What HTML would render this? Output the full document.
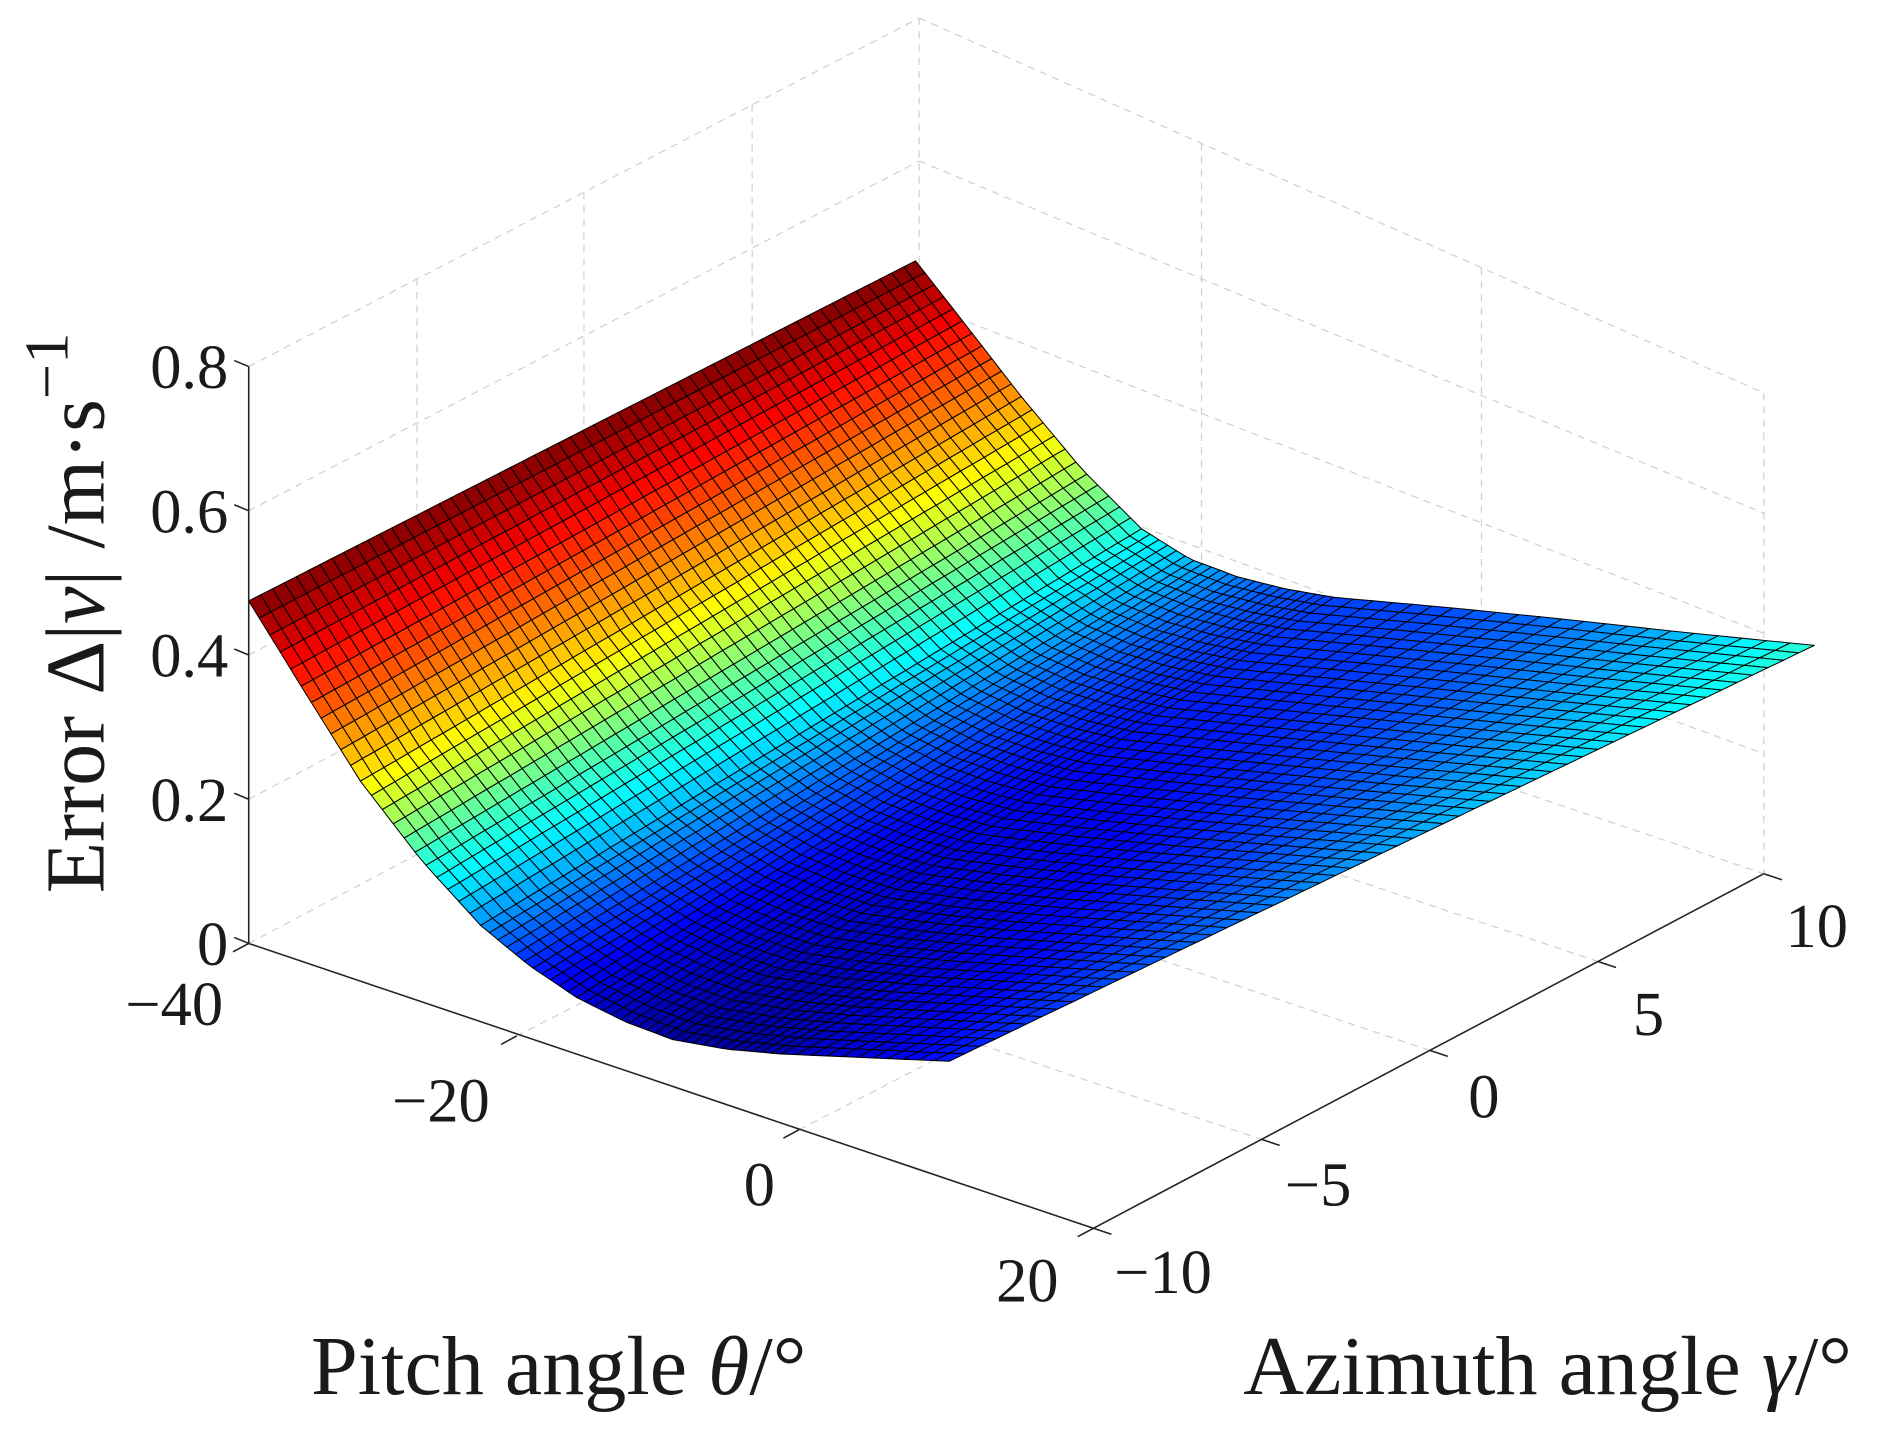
<!DOCTYPE html>
<html><head><meta charset="utf-8"><style>
html,body{margin:0;padding:0;background:#fff;}
svg{display:block;}
text{font-family:"Liberation Serif",serif;fill:#1a1a1a;}
</style></head><body>
<svg id="s" width="1884" height="1429" viewBox="0 0 1568 1189" preserveAspectRatio="none" xmlns="http://www.w3.org/2000/svg">
<g stroke="#cfcfcf" stroke-width="1" stroke-dasharray="6,5" fill="none">
<line x1="207" y1="305" x2="765" y2="15"/>
<line x1="207" y1="425" x2="765" y2="134"/>
<line x1="207" y1="545" x2="765" y2="252"/>
<line x1="207" y1="665" x2="765" y2="371"/>
<line x1="207" y1="785" x2="765" y2="490"/>
<line x1="347" y1="232" x2="347" y2="711"/>
<line x1="486" y1="160" x2="486" y2="637"/>
<line x1="626" y1="87" x2="626" y2="564"/>
<line x1="765" y1="15" x2="765" y2="490"/>
<line x1="765" y1="15" x2="1468" y2="327"/>
<line x1="765" y1="134" x2="1468" y2="427"/>
<line x1="765" y1="252" x2="1468" y2="527"/>
<line x1="765" y1="371" x2="1468" y2="627"/>
<line x1="1000" y1="119" x2="1000" y2="570"/>
<line x1="1233" y1="223" x2="1233" y2="648"/>
<line x1="1468" y1="327" x2="1468" y2="727"/>
<line x1="765" y1="490" x2="1468" y2="727"/>
<line x1="430" y1="862" x2="1000" y2="570"/>
<line x1="665" y1="940" x2="1233" y2="648"/>
<line x1="347" y1="711" x2="1050" y2="948"/>
<line x1="486" y1="637" x2="1190" y2="874"/>
<line x1="626" y1="564" x2="1330" y2="800"/>
</g>
<g id="mesh"></g>
<g stroke="#222" stroke-width="1.3" fill="none">
<line x1="207" y1="305" x2="207" y2="785"/>
<line x1="207" y1="785" x2="910" y2="1022"/>
<line x1="910" y1="1022" x2="1468" y2="727"/>
<line x1="207" y1="305" x2="195" y2="300"/>
<line x1="207" y1="425" x2="195" y2="420"/>
<line x1="207" y1="545" x2="195" y2="540"/>
<line x1="207" y1="665" x2="195" y2="660"/>
<line x1="207" y1="785" x2="195" y2="780"/>
<line x1="207" y1="785" x2="194" y2="792"/>
<line x1="430" y1="862" x2="417" y2="869"/>
<line x1="665" y1="940" x2="652" y2="947"/>
<line x1="910" y1="1022" x2="897" y2="1029"/>
<line x1="910" y1="1022" x2="925" y2="1027"/>
<line x1="1050" y1="948" x2="1065" y2="953"/>
<line x1="1190" y1="874" x2="1205" y2="879"/>
<line x1="1330" y1="800" x2="1345" y2="805"/>
<line x1="1468" y1="727" x2="1483" y2="732"/>
</g>
<g font-size="52" text-anchor="end">
<text x="190" y="323">0.8</text>
<text x="190" y="443">0.6</text>
<text x="190" y="563">0.4</text>
<text x="190" y="683">0.2</text>
<text x="190" y="803">0</text>
</g>
<g font-size="52" text-anchor="middle">
<text x="145" y="853">−40</text>
<text x="367" y="933">−20</text>
<text x="632" y="1003">0</text>
<text x="855" y="1083">20</text>
<text x="968" y="1076">−10</text>
<text x="1097" y="1003">−5</text>
<text x="1235" y="930">0</text>
<text x="1372" y="861">5</text>
<text x="1512" y="788">10</text>
</g>
<g font-size="70" text-anchor="middle">
<text x="465" y="1160">Pitch angle <tspan font-style="italic">θ</tspan>/°</text>
<text x="1288" y="1160">Azimuth angle <tspan font-style="italic">γ</tspan>/°</text>
<text transform="translate(86,510) rotate(-90)">Error Δ|<tspan font-style="italic">v</tspan>| /m·s<tspan dy="-30" font-size="52">−1</tspan></text>
</g>
</svg>
<script>
(function(){
var F=[[207,500],[255,578],[300,650],[350,715],[400,770],[440,803],[480,830],[520,850],[560,865],[605,873],[650,877],[720,880],[790,883]];
var K=[[762,217],[805,272],[850,330],[900,390],[950,440],[990,465],[1030,480],[1070,490],[1110,497],[1200,505],[1300,515],[1400,526],[1510,537]];
var cF=[1,.82,.64,.42,.27,.16,.09,.05,.03,.03,.05,.09,.15];
var cK=[1,.86,.72,.55,.4,.31,.25,.21,.19,.2,.24,.31,.42];
function lerp(a,b,t){return a+(b-a)*t;}
function at(arr,u){var x=u*(arr.length-1);var i=Math.min(Math.floor(x),arr.length-2);var t=x-i;
 if(typeof arr[0]==='number')return lerp(arr[i],arr[i+1],t);
 return [lerp(arr[i][0],arr[i+1][0],t),lerp(arr[i][1],arr[i+1][1],t)];}
function P(u,v){var f=at(F,u),k=at(K,u);return [lerp(f[0],k[0],v),lerp(f[1],k[1],v)];}
function C(u,v){return lerp(at(cF,u),at(cK,u),v);}
function cl(x){return Math.max(0,Math.min(1,x));}
function jet(t){var r=cl(1.5-Math.abs(4*t-3)),g=cl(1.5-Math.abs(4*t-2)),b=cl(1.5-Math.abs(4*t-1));
 return 'rgb('+Math.round(r*255)+','+Math.round(g*255)+','+Math.round(b*255)+')';}
var Ni=66,Nj=56,out=[];
for(var j=Nj-1;j>=0;j--){for(var i=0;i<Ni;i++){
 var u0=i/Ni,u1=(i+1)/Ni,v0=j/Nj,v1=(j+1)/Nj;
 var a=P(u0,v0),b=P(u1,v0),c=P(u1,v1),d=P(u0,v1);
 var col=jet(C((u0+u1)/2,(v0+v1)/2));
 out.push('<polygon points="'+a[0].toFixed(1)+','+a[1].toFixed(1)+' '+b[0].toFixed(1)+','+b[1].toFixed(1)+' '+c[0].toFixed(1)+','+c[1].toFixed(1)+' '+d[0].toFixed(1)+','+d[1].toFixed(1)+'" fill="'+col+'"/>');
}}
var g=document.getElementById('mesh');
g.setAttribute('stroke','#000');g.setAttribute('stroke-width','0.85');g.setAttribute('stroke-linejoin','round');
g.innerHTML=out.join('');
})();
</script>
</body></html>
